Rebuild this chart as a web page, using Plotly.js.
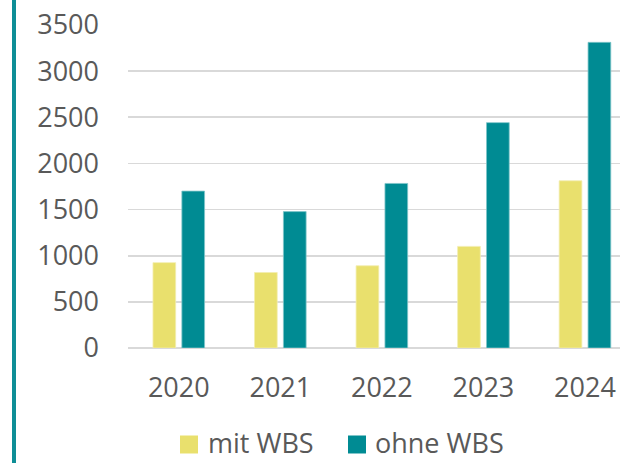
<!DOCTYPE html>
<html>
<head>
<meta charset="utf-8">
<script src="https://cdn.plot.ly/plotly-3.0.1.min.js"></script>
<style>
html,body{margin:0;padding:0;background:#fff;}
#chart{width:620px;height:463px;}
</style>
</head>
<body>
<div id="chart"></div>
<script>
const years = ["2020", "2021", "2022", "2023", "2024"];
const mitWBS = [925, 818, 891, 1101, 1812];
const ohneWBS = [1700, 1478, 1783, 2442, 3312];
const seriesNames = ["mit WBS", "ohne WBS"];
const seriesColors = ["#E9E06D", "#008B93"];
const yTicks = [0, 500, 1000, 1500, 2000, 2500, 3000, 3500];

const fontFam = "'Open Sans', 'Noto Sans', sans-serif";
const txtColor = "#595959";

const data = [
  {type: "bar", name: seriesNames[0], x: years, y: mitWBS, showlegend: false,
   marker: {color: seriesColors[0], line: {color: "#F3EDB0", width: 0.8}}},
  {type: "bar", name: seriesNames[1], x: years, y: ohneWBS, showlegend: false,
   marker: {color: seriesColors[1], line: {color: "#7FC5C9", width: 0.8}}}
];

// legend drawn as squares + labels below the plot (paper coordinates)
const legendSquares = [[0.1057, 0.1423], [0.4472, 0.4837]];
const legendTextX = [0.1606, 0.4990];

const shapes = [
  {type: "line", xref: "paper", yref: "paper", x0: -0.2317, x1: -0.2317, y0: -1, y1: 2,
   line: {color: "#0E8E96", width: 4}}
];
const annotations = [];
seriesNames.forEach(function(n, i){
  shapes.push({type: "rect", xref: "paper", yref: "paper",
    x0: legendSquares[i][0], x1: legendSquares[i][1], y0: -0.3266, y1: -0.2709,
    fillcolor: seriesColors[i], line: {width: 0}});
  annotations.push({xref: "paper", yref: "paper", x: legendTextX[i], y: -0.3530,
    xanchor: "left", yanchor: "bottom", showarrow: false, text: n, borderpad: 0,
    font: {family: fontFam, size: 27, color: txtColor}});
});

const layout = {
  width: 620, height: 463,
  margin: {l: 128, r: 0, t: 25, b: 115, autoexpand: false},
  paper_bgcolor: "#fff", plot_bgcolor: "#fff",
  font: {family: fontFam, size: 27, color: txtColor},
  barmode: "group",
  bargap: 0.431,
  bargroupgap: 0.214,
  showlegend: false,
  xaxis: {type: "category", range: [-0.5, 4.345], showgrid: false, zeroline: false,
          showline: false, ticks: "", ticklabelstandoff: 21, automargin: false,
          tickfont: {family: fontFam, size: 27, color: txtColor}, fixedrange: true},
  yaxis: {range: [0, 3500], tickvals: yTicks, ticktext: yTicks.map(String),
          showgrid: true, gridcolor: "#D9D9D9", gridwidth: 1.6,
          zeroline: true, zerolinecolor: "#D9D9D9", zerolinewidth: 1.6,
          showline: false, ticks: "", ticklabelstandoff: 28, automargin: false,
          tickfont: {family: fontFam, size: 27, color: txtColor}, fixedrange: true},
  shapes: shapes,
  annotations: annotations
};

Plotly.newPlot("chart", data, layout, {displayModeBar: false, staticPlot: true});
</script>
</body>
</html>
